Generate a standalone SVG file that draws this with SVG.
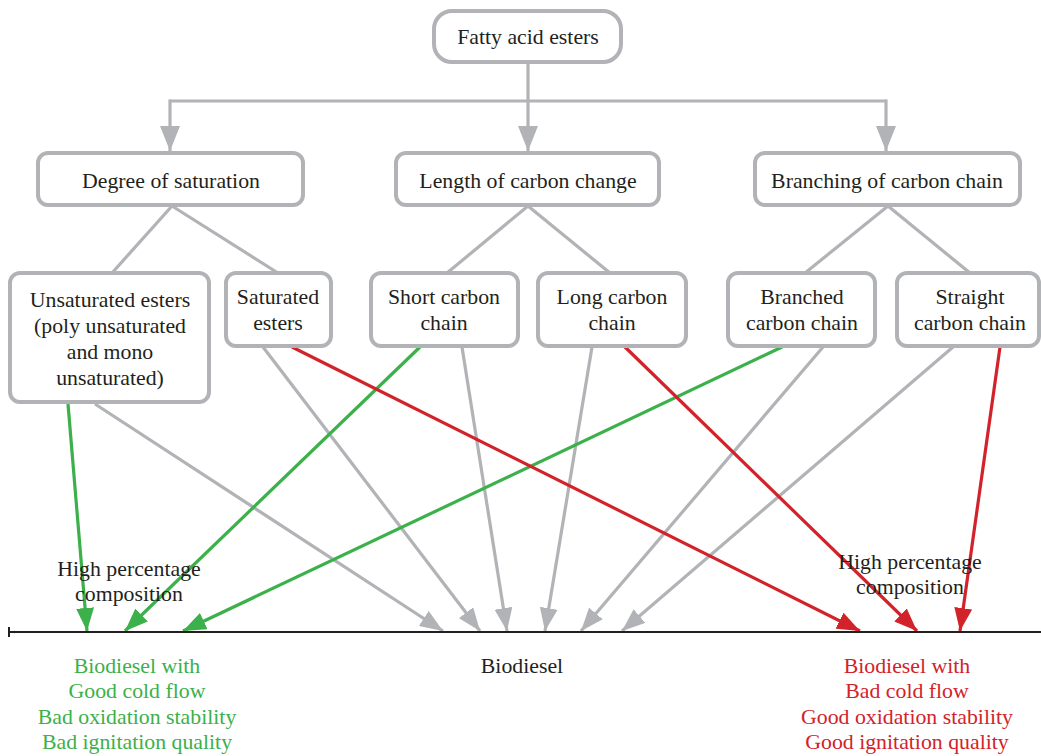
<svg xmlns="http://www.w3.org/2000/svg" width="1041" height="756" viewBox="0 0 1041 756">
<style>
.box{fill:#fff;stroke:#B2B3B6;stroke-width:4}
.t{font-family:"Liberation Serif","Times New Roman",serif;font-size:21.8px;fill:#231F20;text-anchor:middle}
.g{stroke:#B2B3B6;stroke-width:3.2;fill:none}
.gr{stroke:#3CB04A;stroke-width:3.2;fill:none}
.rd{stroke:#D2232A;stroke-width:3.2;fill:none}
.tg{fill:#3CB04A}
.tr{fill:#D2232A}
</style>
<defs>
<marker id="ag" markerUnits="userSpaceOnUse" markerWidth="23" markerHeight="18" refX="23" refY="9" orient="auto"><path d="M0,0 L23,9 L0,18 z" fill="#B2B3B6"/></marker>
<marker id="agBig" markerUnits="userSpaceOnUse" markerWidth="25" markerHeight="20" refX="25" refY="10" orient="auto"><path d="M0,0 L25,10 L0,20 z" fill="#B2B3B6"/></marker>
<marker id="agr" markerUnits="userSpaceOnUse" markerWidth="23" markerHeight="18" refX="23" refY="9" orient="auto"><path d="M0,0 L23,9 L0,18 z" fill="#3CB04A"/></marker>
<marker id="ard" markerUnits="userSpaceOnUse" markerWidth="23" markerHeight="18" refX="23" refY="9" orient="auto"><path d="M0,0 L23,9 L0,18 z" fill="#D2232A"/></marker>
</defs>
<rect width="1041" height="756" fill="#fff"/>
<g id="connectors">
<line class="g" x1="528" y1="63" x2="528" y2="151" marker-end="url(#agBig)"/>
<line class="g" x1="170" y1="101" x2="886" y2="101"/>
<line class="g" x1="170" y1="99.4" x2="170" y2="151" marker-end="url(#agBig)"/>
<line class="g" x1="886" y1="99.4" x2="886" y2="151" marker-end="url(#agBig)"/>
<line class="g" x1="172" y1="206" x2="112" y2="273"/>
<line class="g" x1="172" y1="206" x2="278" y2="273"/>
<line class="g" x1="528" y1="206" x2="447" y2="273"/>
<line class="g" x1="528" y1="206" x2="610" y2="273"/>
<line class="g" x1="888" y1="206" x2="805" y2="273"/>
<line class="g" x1="888" y1="206" x2="970" y2="273"/>
<line class="g" x1="95" y1="404" x2="443" y2="631" marker-end="url(#ag)"/>
<line class="g" x1="263" y1="347" x2="480" y2="631" marker-end="url(#ag)"/>
<line class="g" x1="462" y1="347" x2="507" y2="631" marker-end="url(#ag)"/>
<line class="g" x1="592" y1="347" x2="545" y2="631" marker-end="url(#ag)"/>
<line class="g" x1="823" y1="347" x2="581" y2="631" marker-end="url(#ag)"/>
<line class="g" x1="953" y1="347" x2="622" y2="631" marker-end="url(#ag)"/>
<line class="gr" x1="68" y1="404" x2="87" y2="631" marker-end="url(#agr)"/>
<line class="gr" x1="420" y1="347" x2="125" y2="631" marker-end="url(#agr)"/>
<line class="gr" x1="782" y1="347" x2="183" y2="631" marker-end="url(#agr)"/>
<line class="rd" x1="292" y1="347" x2="860" y2="631" marker-end="url(#ard)"/>
<line class="rd" x1="625" y1="347" x2="917" y2="631" marker-end="url(#ard)"/>
<line class="rd" x1="1000" y1="347" x2="960" y2="631" marker-end="url(#ard)"/>
<line x1="9" y1="632" x2="1041" y2="632" stroke="#231F20" stroke-width="2"/>
<line x1="9" y1="627" x2="9" y2="637" stroke="#231F20" stroke-width="2"/>
</g>
<g id="n-fatty"><rect class="box" x="434" y="11" width="187" height="51" rx="18"/><text class="t" x="528" y="44">Fatty acid esters</text></g>
<g id="n-degree"><rect class="box" x="38" y="153" width="265" height="52" rx="10"/><text class="t" x="171" y="188">Degree of saturation</text></g>
<g id="n-length"><rect class="box" x="396" y="153" width="263" height="52" rx="10"/><text class="t" x="528" y="188">Length of carbon change</text></g>
<g id="n-branching"><rect class="box" x="755" y="153" width="265" height="52" rx="10"/><text class="t" x="887" y="188">Branching of carbon chain</text></g>
<g id="n-unsat"><rect class="box" x="10" y="273" width="199" height="129" rx="10"/><text class="t" x="110" y="307">Unsaturated esters</text><text class="t" x="110" y="333">(poly unsaturated</text><text class="t" x="110" y="359">and mono</text><text class="t" x="110" y="385">unsaturated)</text></g>
<g id="n-sat"><rect class="box" x="226" y="273" width="105" height="73" rx="10"/><text class="t" x="278" y="304">Saturated</text><text class="t" x="278" y="330">esters</text></g>
<g id="n-short"><rect class="box" x="371" y="273" width="147" height="73" rx="10"/><text class="t" x="444" y="304">Short carbon</text><text class="t" x="444" y="330">chain</text></g>
<g id="n-long"><rect class="box" x="538" y="273" width="148" height="73" rx="10"/><text class="t" x="612" y="304">Long carbon</text><text class="t" x="612" y="330">chain</text></g>
<g id="n-branched"><rect class="box" x="728" y="273" width="147" height="73" rx="10"/><text class="t" x="802" y="304">Branched</text><text class="t" x="802" y="330">carbon chain</text></g>
<g id="n-straight"><rect class="box" x="897" y="273" width="142" height="73" rx="10"/><text class="t" x="970" y="304">Straight</text><text class="t" x="970" y="330">carbon chain</text></g>
<g id="labels">
<text class="t" x="129" y="576">High percentage</text><text class="t" x="129" y="601">composition</text>
<text class="t" x="910" y="569">High percentage</text><text class="t" x="910" y="594">composition</text>
<text class="t" x="522" y="673">Biodiesel</text>
<text class="t tg" x="137" y="673">Biodiesel with</text><text class="t tg" x="137" y="698">Good cold flow</text><text class="t tg" x="137" y="724">Bad oxidation stability</text><text class="t tg" x="137" y="749">Bad ignitation quality</text>
<text class="t tr" x="907" y="673">Biodiesel with</text><text class="t tr" x="907" y="698">Bad cold flow</text><text class="t tr" x="907" y="724">Good oxidation stability</text><text class="t tr" x="907" y="749">Good ignitation quality</text>
</g>
</svg>
